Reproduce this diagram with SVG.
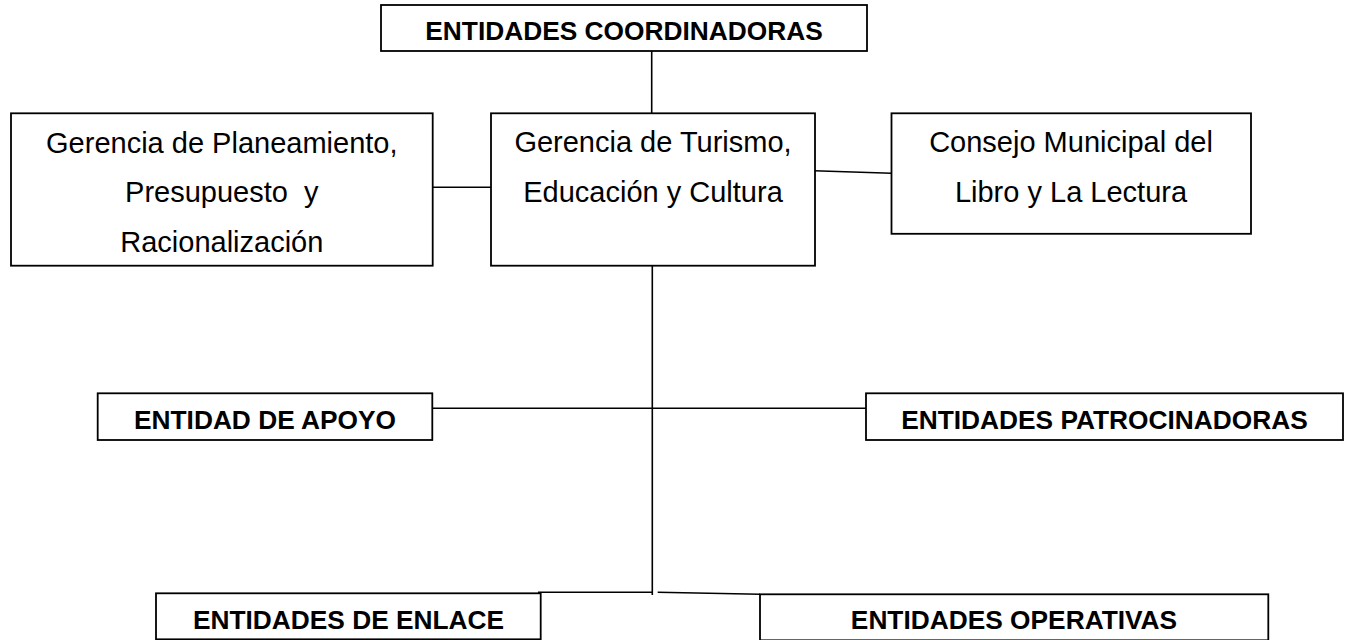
<svg xmlns="http://www.w3.org/2000/svg" width="1350" height="640" viewBox="0 0 1350 640">
<style>
.box{fill:#ffffff;stroke:#000000;stroke-width:1.8}
.ln{fill:none;stroke:#000000;stroke-width:1.6}
.reg{font-family:"Liberation Sans",Arial,sans-serif;font-size:29px;fill:#000000;text-anchor:middle}
.bold{font-family:"Liberation Sans",Arial,sans-serif;font-size:26.3px;font-weight:bold;fill:#000000;text-anchor:middle}
</style>
<rect width="1350" height="640" fill="#ffffff"/>
<g id="connectors">
<path class="ln" d="M651.7,51 V113"/>
<path class="ln" d="M430,187.3 H491"/>
<path class="ln" d="M814,170.7 L891.5,173.3"/>
<path class="ln" d="M652.3,266 V595"/>
<path class="ln" d="M432,408.3 H866"/>
<path class="ln" d="M538,592.3 H652.3"/>
<path class="ln" d="M657.7,592.3 L760,594.3"/>
</g>
<g id="coordinadoras">
<rect class="box" x="381" y="5" width="486" height="46"/>
<text class="bold" x="624" y="40">ENTIDADES COORDINADORAS</text>
</g>
<g id="planeamiento">
<rect class="box" x="11" y="113.3" width="421.7" height="152.4"/>
<text class="reg" x="221.8" y="153">Gerencia de Planeamiento,</text>
<text class="reg" x="221.8" y="202" xml:space="preserve" style="white-space:pre">Presupuesto  y</text>
<text class="reg" x="221.8" y="251.5">Racionalización</text>
</g>
<g id="turismo">
<rect class="box" x="491" y="113.3" width="324" height="152.4"/>
<text class="reg" x="653" y="152">Gerencia de Turismo,</text>
<text class="reg" x="653" y="201.7">Educación y Cultura</text>
</g>
<g id="consejo">
<rect class="box" x="891.5" y="113.3" width="359.5" height="120.5"/>
<text class="reg" x="1071" y="151.7">Consejo Municipal del</text>
<text class="reg" x="1071" y="201.7">Libro y La Lectura</text>
</g>
<g id="apoyo">
<rect class="box" x="97.7" y="393.3" width="334.6" height="46.7"/>
<text class="bold" x="265" y="429.3">ENTIDAD DE APOYO</text>
</g>
<g id="patrocinadoras">
<rect class="box" x="866" y="393.3" width="477" height="46.7"/>
<text class="bold" x="1104.5" y="428.5">ENTIDADES PATROCINADORAS</text>
</g>
<g id="enlace">
<rect class="box" x="156" y="593.3" width="384.7" height="46"/>
<text class="bold" x="348.5" y="629">ENTIDADES DE ENLACE</text>
</g>
<g id="operativas">
<rect class="box" x="760" y="594.3" width="508.3" height="46"/>
<text class="bold" x="1014" y="628.5">ENTIDADES OPERATIVAS</text>
</g>
</svg>
